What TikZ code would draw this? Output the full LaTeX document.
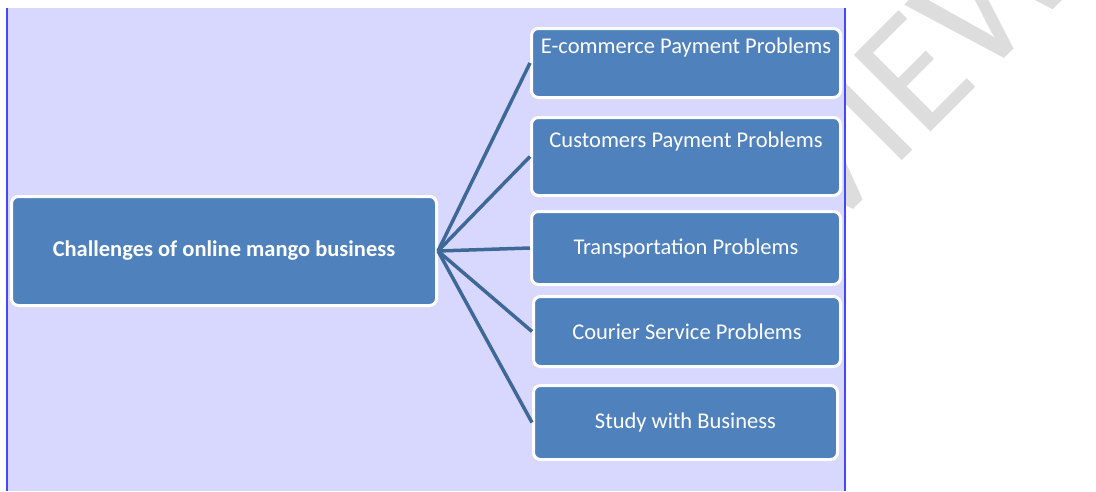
\documentclass[tikz,border=0pt]{standalone}
\usepackage{fontspec}
\setmainfont{Carlito}
\usetikzlibrary{positioning}

\definecolor{boxblue}{HTML}{4F81BD}
\definecolor{linkblue}{HTML}{3D6898}
\definecolor{pagelav}{HTML}{D8D8FE}
\definecolor{edgeblue}{HTML}{4646FF}
\definecolor{markgray}{HTML}{DDDDDD}

\begin{document}
\begin{tikzpicture}[x=1pt, y=-1pt,
    box/.style={draw=white, line width=3pt, fill=boxblue, rounded corners=7pt,
                text=white, align=center, font=\fontsize{22.5}{26}\selectfont},
    topbox/.style args={#1 and #2}{box, inner ysep=10pt, text height=#1, text depth=#2},
    link/.style={draw=linkblue, line width=3.5pt}]

    \useasboundingbox (0,0) rectangle (1096,491);

    % --- watermark under the page ---
    \begin{scope}
        \clip (0,0) rectangle (1096,491);
        \node[text=markgray, font=\fontsize{169}{169}\selectfont, rotate=45,
              anchor=base east, inner sep=0pt] (mark) at (1087,-24) {VIEW};
    \end{scope}
    \fill[pagelav] (7,8) rectangle (845,491);
    \draw[edgeblue, line width=1.5pt] (7,8) -- (7,491) (845,8) -- (845,491);

    % --- root ---
    \node[box, font=\bfseries\fontsize{22.5}{26}\selectfont, minimum width=425pt, minimum height=109pt] (main) at (224,251) {Challenges of online mango business};

    % --- branches ---
    \node[topbox={15pt and 34pt}, minimum width=309pt] (ecom) at (686,63) {E-commerce Payment Problems};
    \node[topbox={20pt and 38pt}, minimum width=309pt] (cust) at (686,156.5) {Customers Payment Problems};
    \node[box, minimum width=309pt, minimum height=73pt] (trans) at (686,248) {Transportation Problems};
    \node[box, minimum width=307pt, minimum height=70pt] (courier) at (687,331.5) {Courier Service Problems};
    \node[box, minimum width=304pt, minimum height=74pt] (study) at (685.5,422.5) {Study with Business};

    \foreach \b in {ecom, cust, trans, courier, study}
        \draw[link] (main.east) -- (\b.west);

\end{tikzpicture}
\end{document}
